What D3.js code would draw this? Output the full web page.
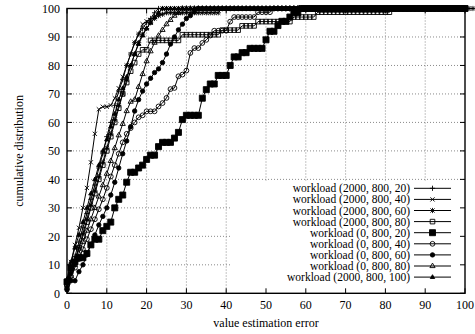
<!DOCTYPE html>
<html>
<head>
<meta charset="utf-8">
<script src="https://cdnjs.cloudflare.com/ajax/libs/d3/7.8.5/d3.min.js"></script>
<style>
  body { margin: 0; background: #fff; }
  text { font-family: "Liberation Serif", "DejaVu Serif", serif; font-size: 12px; fill: #000; }
  text.key { font-size: 11.5px; }
</style>
</head>
<body>
<script>
// cumulative distribution of the value estimation error, one y value per error 0..100

var xTicks = [0, 10, 20, 30, 40, 50, 60, 70, 80, 90, 100]
var yTicks = [0, 10, 20, 30, 40, 50, 60, 70, 80, 90, 100]

var names = ["workload (2000, 800, 20)", "workload (2000, 800, 40)", "workload (2000, 800, 60)",
             "workload (2000, 800, 80)", "workload (0, 800, 20)", "workload (0, 800, 40)",
             "workload (0, 800, 60)", "workload (0, 800, 80)", "workload (2000, 800, 100)"]

var cdf1 = [3,8,13,18,23,28,33,38,44,49,55,60,66,71,75,80,84,88,91,93,95,96.5,98.5,
  100,100,100,100,100,100,100,100,100,100,100,100,100,100,100,100,100,100,100,100,100,100,100,100,100,100,
  100,100,100,100,100,100,100,100,100,100,100,100,100,100,100,100,100,100,100,100,100,100,100,100,100,100,
  100,100,100,100,100,100,100,100,100,100,100,100,100,100,100,100,100,100,100,100,100,100,100,100,100,100]

var cdf2 = [4,11,17,23,30,37,46,56,64.6,65.5,65.5,66,68.5,72,76,80,84,88,91,94.5,95.5,96,97,98.5,
  100,100,100,100,100,100,100,100,100,100,100,100,100,100,100,100,100,100,100,100,100,100,100,100,100,
  100,100,100,100,100,100,100,100,100,100,100,100,100,100,100,100,100,100,100,100,100,100,100,100,100,100,
  100,100,100,100,100,100,100,100,100,100,100,100,100,100,100,100,100,100,100,100,100,100,100,100,100,100]

var cdf3 = [2,7,11,16,21,26,31,36,41,46,51,56,61,66,70,75,80,84,88,91,93,95,96.5,97.5,98,
  98.5,98.5,98.5,98.5,98.5,98.5,98.5,98.5,98.5,98.5,98.5,98.5,98.5,98.5,
  100,100,100,100,100,100,100,100,100,100,100,100,100,100,100,100,100,100,100,100,100,100,100,100,100,100,
  100,100,100,100,100,100,100,100,100,100,100,100,100,100,100,100,100,100,100,100,100,100,100,100,100,100,
  100,100,100,100,100,100,100,100,100,100,100,100]

var cdf4 = [3,8,12,16,20,25,30,35,40,45,50,55,60,65,70,74,78,81,84,
  85.5,85.5,
  88.8,88.8,88.8,88.8,88.8,88.8,88.8,88.8,
  90.8,90.8,90.8,90.8,90.8,90.8,90.8,90.8,90.8,90.8,
  92.4,92.4,92.4,92.4,92.4,
  93.9,93.9,93.9,93.9,
  95.4,95.4,95.4,95.4,95.4,95.4,95.4,95.4,95.4,
  97,97,97,97,97,97,
  98.7,98.7,98.7,98.7,98.7,98.7,98.7,98.7,98.7,98.7,98.7,98.7,98.7,98.7,98.7,98.7,98.7,98.7,98.7,
  100,100,100,100,100,100,100,100,100,100,100,100,100,100,100,100,100,100,100]

var cdf5 = [4,9,11,12.5,12.5,14,17,19,19,22,23.5,25,30,33,34.5,39,42.5,42.5,44,45,47,48.5,48.5,51.5,
  53,53,53,54.5,56.5,61,62.5,62.5,62.5,62.5,68.5,71.5,73.5,73.5,76.5,76.5,76.5,80,83,83,84.5,84.5,
  86,86,86,86,89,92,92,94,95.5,95.5,97,98.5,98.5,
  100,100,100,100,100,100,100,100,100,100,100,100,100,100,100,100,100,100,100,100,100,
  100,100,100,100,100,100,100,100,100,100,100,100,100,100,100,100,100,100,100,100,100]

var cdf6 = [3,6,9,12,15.5,19,22.5,26,29.5,33,37,41,45,49,53,56,58,60,61.8,62.5,63.9,63.9,63.9,
  65.6,66.8,68.6,71.7,72.1,76.2,76.8,78.2,84.4,86.1,86.1,87.9,89,90.5,92.2,92.2,92.2,92.2,95.4,
  97,97,97,97,97,97,98.7,98.7,98.7,98.7,
  100,100,100,100,100,100,100,100,100,100,100,100,100,100,100,100,100,100,100,100,100,100,100,100,100,
  100,100,100,100,100,100,100,100,100,100,100,100,100,100,100,100,100,100,100,100,100,100,100,100]

var cdf7 = [1.2,4.4,4.4,7.6,10,13.5,17,20.5,24,27,30,34.5,39,44,49,53.5,58.5,64,68,71,73.5,75.5,
  77.5,78.8,81,84,87.5,90,92.5,94.5,96.5,97.5,98.8,
  100,100,100,100,100,100,100,100,100,100,100,100,100,100,100,100,100,100,100,100,100,100,100,100,100,100,
  100,100,100,100,100,100,100,100,100,100,100,100,100,100,100,100,100,100,100,100,100,100,100,100,100,100,
  100,100,100,100,100,100,100,100,100,100,100,100,100,100,100,100]

var cdf8 = [2,6,10,14,18,22,26,30,34,38,42,46.5,51,55.5,59.5,64,67.3,68,72.5,77,81.5,85,88,90.5,
  92.5,94.5,96,97.5,98.5,
  100,100,100,100,100,100,100,100,100,100,100,100,100,100,100,100,100,100,100,100,100,100,100,100,100,100,
  100,100,100,100,100,100,100,100,100,100,100,100,100,100,100,100,100,100,100,100,100,100,100,100,100,100,
  100,100,100,100,100,100,100,100,100,100,100,100,100,100,100,100,100,100,100,100]

var cdf9 = [5,11,16,20.5,25,30,35,40,45,50,54,58.5,63,68,72,76,80,84,87.5,90.5,93,95,97,98.5,
  100,100,100,100,100,100,100,100,100,100,100,100,100,100,100,100,100,100,100,100,100,100,100,100,100,
  100,100,100,100,100,100,100,100,100,100,100,100,100,100,100,100,100,100,100,100,100,100,100,100,100,100,
  100,100,100,100,100,100,100,100,100,100,100,100,100,100,100,100,100,100,100,100,100,100,100,100,100,100]

var pointTypes = ["plus", "cross", "star", "box", "boxfill", "circle", "circlefill", "tri", "trifill"]

// size of the picture and the plot frame
var w = 475
var h = 334
var frame = {left: 67, right: 465, top: 8.5, bottom: 293.3}
var legendBox = {x: 231, y: 182}

var svg = d3.select("body")
            .append("svg")
            .attr("width", w)
            .attr("height", h)

var xScale = d3.scaleLinear().domain([0, 100]).range([frame.left, frame.right])
var yScale = d3.scaleLinear().domain([0, 100]).range([frame.bottom, frame.top])

var series = [cdf1, cdf2, cdf3, cdf4, cdf5, cdf6, cdf7, cdf8, cdf9].map(function(v, i) {
  return {name: names[i], values: v, pt: pointTypes[i]}
})

function markerPath(pt) {
  /* small gnuplot-like point symbols, centred on 0,0 */
  var s = 2.6
  var d = 2.1
  if (pt == "plus") return "M" + (-s) + ",0H" + s + "M0," + (-s) + "V" + s
  if (pt == "cross") return "M" + (-d) + "," + (-d) + "L" + d + "," + d + "M" + (-d) + "," + d + "L" + d + "," + (-d)
  if (pt == "star") return "M" + (-s) + ",0H" + s + "M0," + (-s) + "V" + s +
                           "M" + (-d) + "," + (-d) + "L" + d + "," + d + "M" + (-d) + "," + d + "L" + d + "," + (-d)
  if (pt == "box") return "M-2.3,-2.3H2.3V2.3H-2.3Z"
  if (pt == "boxfill") return "M-3,-3H3V3H-3Z"
  if (pt == "circle" || pt == "circlefill") {
    var r = pt == "circle" ? 2.4 : 2.2
    return "M" + r + ",0A" + r + "," + r + " 0 1,1 " + (-r) + ",0A" + r + "," + r + " 0 1,1 " + r + ",0Z"
  }
  if (pt == "tri") return "M0,-2.9L2.6,1.6H-2.6Z"
  if (pt == "trifill") return "M0,-2.4L2.2,1.4H-2.2Z"
}

function isFilled(pt) {
  return pt == "boxfill" || pt == "circlefill" || pt == "trifill"
}

function drawGrid() {
  var inner = yTicks.filter(function(t) { return t > 0 && t < 100 })

  svg.append("g")
     .selectAll("line")
     .data(inner)
     .enter()
     .append("line")
     .attr("x1", frame.left)
     .attr("x2", frame.right)
     .attr("y1", function(d) { return yScale(d) })
     .attr("y2", function(d) { return yScale(d) })
     .attr("stroke", "#8a8a8a")
     .attr("stroke-width", 1)
     .attr("stroke-dasharray", "1,2")

  svg.append("g")
     .selectAll("line")
     .data(xTicks.filter(function(t) { return t > 0 && t < 100 }))
     .enter()
     .append("line")
     .attr("x1", function(d) { return xScale(d) })
     .attr("x2", function(d) { return xScale(d) })
     .attr("y1", frame.top)
     .attr("y2", frame.bottom)
     .attr("stroke", "#8a8a8a")
     .attr("stroke-width", 1)
     .attr("stroke-dasharray", "1,2")

  // the key hides the grid behind it
  svg.append("rect")
     .attr("x", legendBox.x)
     .attr("y", legendBox.y)
     .attr("width", frame.right - legendBox.x)
     .attr("height", frame.bottom - legendBox.y)
     .attr("fill", "#fff")
}

function drawAxes() {
  // ticks inward on all four sides
  var tick = 5
  var g = svg.append("g").attr("stroke", "#000").attr("stroke-width", 1)

  xTicks.forEach(function(t) {
    g.append("line").attr("x1", xScale(t)).attr("x2", xScale(t))
     .attr("y1", frame.bottom).attr("y2", frame.bottom - tick)
    g.append("line").attr("x1", xScale(t)).attr("x2", xScale(t))
     .attr("y1", frame.top).attr("y2", frame.top + tick)
  })
  yTicks.forEach(function(t) {
    g.append("line").attr("x1", frame.left).attr("x2", frame.left + tick)
     .attr("y1", yScale(t)).attr("y2", yScale(t))
    g.append("line").attr("x1", frame.right).attr("x2", frame.right - tick)
     .attr("y1", yScale(t)).attr("y2", yScale(t))
  })

  svg.append("rect")
     .attr("x", frame.left)
     .attr("y", frame.top)
     .attr("width", frame.right - frame.left)
     .attr("height", frame.bottom - frame.top)
     .attr("fill", "none")
     .attr("stroke", "#000")
     .attr("stroke-width", 1.4)

  svg.selectAll(".xlab")
     .data(xTicks)
     .enter()
     .append("text")
     .attr("class", "xlab")
     .attr("x", function(d) { return xScale(d) })
     .attr("y", 309)
     .attr("text-anchor", "middle")
     .text(function(d) { return d })

  svg.selectAll(".ylab")
     .data(yTicks)
     .enter()
     .append("text")
     .attr("class", "ylab")
     .attr("x", 60)
     .attr("y", function(d) { return yScale(d) })
     .attr("dy", "0.35em")
     .attr("text-anchor", "end")
     .text(function(d) { return d })

  svg.append("text")
     .attr("x", (frame.left + frame.right) / 2)
     .attr("y", 327)
     .attr("text-anchor", "middle")
     .text("value estimation error")

  svg.append("text")
     .attr("transform", "translate(23," + ((frame.top + frame.bottom) / 2) + ") rotate(-90)")
     .attr("text-anchor", "middle")
     .text("cumulative distribution")
}

function drawSeries() {
  var line = d3.line()
               .x(function(d, i) { return xScale(i) })
               .y(function(d) { return yScale(d) })

  series.forEach(function(s) {
    var g = svg.append("g")

    g.append("path")
     .attr("d", line(s.values))
     .attr("fill", "none")
     .attr("stroke", "#000")
     .attr("stroke-width", 1)

    g.selectAll("path.pt")
     .data(s.values)
     .enter()
     .append("path")
     .attr("class", "pt")
     .attr("d", markerPath(s.pt))
     .attr("transform", function(d, i) { return "translate(" + xScale(i) + "," + yScale(d) + ")" })
     .attr("fill", isFilled(s.pt) ? "#000" : "none")
     .attr("stroke", "#000")
     .attr("stroke-width", 0.9)
  })
}

function drawLegend() {
  var rowH = 11.1
  var top = 188.3

  series.forEach(function(s, i) {
    var y = top + i * rowH
    svg.append("text")
       .attr("class", "key")
       .attr("x", 410)
       .attr("y", y)
       .attr("dy", "0.35em")
       .attr("text-anchor", "end")
       .text(s.name)
    svg.append("line")
       .attr("x1", 414)
       .attr("x2", 451)
       .attr("y1", y)
       .attr("y2", y)
       .attr("stroke", "#000")
       .attr("stroke-width", 1)
    svg.append("path")
       .attr("d", markerPath(s.pt))
       .attr("transform", "translate(432.5," + y + ")")
       .attr("fill", isFilled(s.pt) ? "#000" : "none")
       .attr("stroke", "#000")
       .attr("stroke-width", 0.9)
  })
}

drawGrid()
drawSeries()
drawAxes()
drawLegend()
</script>
</body>
</html>
